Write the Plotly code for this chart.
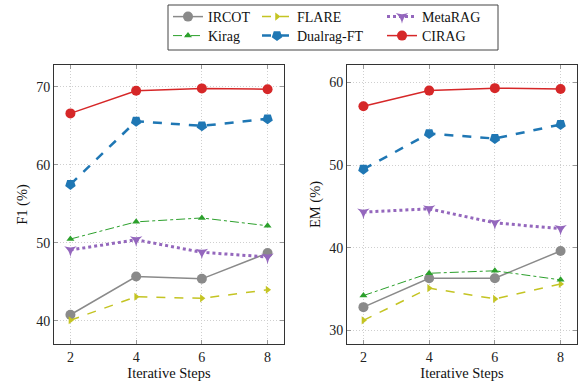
import plotly.graph_objects as go

steps = [2, 4, 6, 8]
series_names = ["IRCOT", "FLARE", "MetaRAG", "Kirag", "Dualrag-FT", "CIRAG"]

f1_ircot = [40.8, 45.7, 45.4, 48.7]
f1_flare = [40.1, 43.1, 42.9, 44.0]
f1_metarag = [49.1, 50.4, 48.8, 48.2]
f1_kirag = [50.5, 52.7, 53.2, 52.2]
f1_dualrag = [57.5, 65.6, 65.0, 65.9]
f1_cirag = [66.6, 69.5, 69.8, 69.7]

em_ircot = [32.8, 36.3, 36.3, 39.6]
em_flare = [31.2, 35.1, 33.8, 35.6]
em_metarag = [44.3, 44.7, 43.0, 42.3]
em_kirag = [34.2, 36.9, 37.2, 36.1]
em_dualrag = [49.5, 53.8, 53.2, 54.9]
em_cirag = [57.1, 59.0, 59.3, 59.2]

f1_data = [f1_ircot, f1_flare, f1_metarag, f1_kirag, f1_dualrag, f1_cirag]
em_data = [em_ircot, em_flare, em_metarag, em_kirag, em_dualrag, em_cirag]

styles = {
    "IRCOT": dict(color="#8a8a8a", dash="solid", width=1.5, symbol="circle", size=10, angle=0),
    "FLARE": dict(color="#c4c423", dash="dash", width=1.5, symbol="triangle-right", size=7, angle=0),
    "MetaRAG": dict(color="#9467bd", dash="dot", width=3, symbol="star-triangle-down", size=9, angle=0),
    "Kirag": dict(color="#2ca02c", dash="dashdot", width=1, symbol="triangle-up", size=7, angle=0),
    "Dualrag-FT": dict(color="#1f77b4", dash="dash", width=2.5, symbol="pentagon", size=11, angle=180),
    "CIRAG": dict(color="#d62728", dash="solid", width=1.5, symbol="circle", size=10, angle=0),
}

W, H = 578, 381
def px(v):
    return v / W
def py(v):
    return 1 - v / H

# legend slot (left x px, center y px) for each series
legend_slot = {
    "IRCOT": ("legend", 168, 17), "FLARE": ("legend2", 257, 17), "MetaRAG": ("legend3", 382, 17),
    "Kirag": ("legend4", 168, 36), "Dualrag-FT": ("legend5", 257, 36), "CIRAG": ("legend6", 382, 36),
}

FONT = "Liberation Serif"
fig = go.Figure()

for xa, ya, data, show in [("x", "y", f1_data, True), ("x2", "y2", em_data, False)]:
    for name, vals in zip(series_names, data):
        s = styles[name]
        fig.add_trace(go.Scatter(
            x=steps, y=vals, mode="lines+markers", name=name,
            xaxis=xa, yaxis=ya, showlegend=show,
            legend=legend_slot[name][0],
            line=dict(color=s["color"], dash=s["dash"], width=s["width"]),
            marker=dict(symbol=s["symbol"], size=s["size"], color=s["color"], angle=s["angle"],
                        line=dict(width=0)),
        ))

axis_common = dict(
    showline=True, linecolor="#333333", linewidth=1, mirror="ticks",
    ticks="inside", ticklen=4, tickcolor="#999999", tickwidth=1,
    showgrid=True, gridcolor="#cfcfcf", griddash="1px,2px", gridwidth=1,
    zeroline=False, automargin=False, tickfont=dict(family=FONT, size=14, color="#222"),
)

leg_common = dict(font=dict(family=FONT, size=14, color="#111"), bgcolor="rgba(0,0,0,0)",
                  orientation="v", xanchor="left", yanchor="middle", tracegroupgap=0,
                  itemwidth=30)

legends = {}
for name, (key, lx, ly) in legend_slot.items():
    legends[key] = dict(x=px(lx), y=py(ly), **leg_common)

fig.update_layout(
    width=W, height=H, margin=dict(l=0, r=0, t=0, b=0, autoexpand=False),
    paper_bgcolor="white", plot_bgcolor="white",
    font=dict(family=FONT, size=14, color="#111"),
    xaxis=dict(domain=[px(54), px(284)], range=[1.5, 8.5], tickvals=steps,
               title=dict(text="Iterative Steps", font=dict(family=FONT, size=14.5), standoff=4), **axis_common),
    yaxis=dict(domain=[py(344), py(65)], range=[37.05, 72.8], tickvals=[40, 50, 60, 70],
               title=dict(text="F1 (%)", font=dict(family=FONT, size=14.5), standoff=5), **axis_common),
    xaxis2=dict(domain=[px(347), px(577)], range=[1.5, 8.5], tickvals=steps, anchor="y2",
                title=dict(text="Iterative Steps", font=dict(family=FONT, size=14.5), standoff=4), **axis_common),
    yaxis2=dict(domain=[py(344), py(65)], range=[28.34, 62.1], tickvals=[30, 40, 50, 60], anchor="x2",
                title=dict(text="EM (%)", font=dict(family=FONT, size=14.5), standoff=5), **axis_common),
    shapes=[dict(type="rect", xref="paper", yref="paper", x0=px(168), x1=px(498), y0=py(50), y1=py(5),
                 line=dict(color="#444", width=1))],
    **legends,
)

fig.write_html("out.html", config={"displayModeBar": False},
               post_script="document.body.style.margin='0';document.body.style.padding='0';")
